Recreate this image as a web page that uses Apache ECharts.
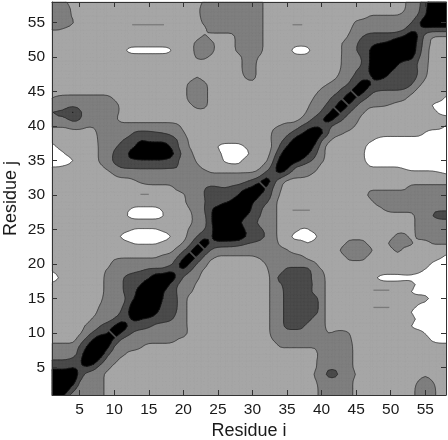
<!DOCTYPE html>
<html>
<head>
<meta charset="utf-8">
<title>Residue contact map</title>
<script src="https://cdn.jsdelivr.net/npm/echarts@6/dist/echarts.min.js"></script>
<style>
  html, body { margin: 0; padding: 0; background: #fff; }
  #chart { width: 448px; height: 440px; }
</style>
</head>
<body>
<div id="chart"></div>
<script>
var tickValues = [5, 10, 15, 20, 25, 30, 35, 40, 45, 50, 55];
var residueMin = 1;
var residueMax = 58;
var contourLevels = [2, 4, 6, 8];
var bandColors = ['#a6a6a6', '#7f7f7f', '#4b4b4b', '#000000'];

// thin traces where the surface just touches a level: i from, i to, j
var levelTraces = [
  [12.6, 17.2, 54.7],
  [35.8, 37.2, 54.7],
  [13.8, 15, 30.1],
  [35.8, 38.3, 27.8],
  [47.5, 49.8, 16.2],
  [47.5, 49.8, 13.7]
];

// narrow saddles that cut the black ridge along the diagonal: residue i, residue j
var ridgeSaddles = [
  [9.8, 9.8],
  [21.3, 21.4],
  [22.6, 22.6],
  [31.4, 31.5],
  [42.2, 42.3],
  [43.4, 43.5],
  [44.7, 44.7]
];

// one row per residue j, from 58 at the top down to 1; columns are residue i = 1..58
var zRows = [
  [5,5,4.2,3,3,3,3,3,3,3, 3,3,3,3,3,3,3,3,3,3, 3,3,4.4,5,5,5,5,5,5,5, 5,3,3,3,3,3,3,3,3,3, 3,3,3,3,3,3,3,3,3,3, 3,3.7,5,5.5,7,10,10,10],
  [5,5,5,3.5,3,3,3,3,3,3, 3,3,3,3,3,3,3,3,3,3, 3,3.4,5,5,5,5,5,5,5,5, 5,3,3,3,3,3,3,3,3,3, 3,3,3,3,3,3,3,3,3,3, 3,3.8,5,5.5,7.3,10,10,10],
  [5,5,5,3.6,3,3,3,3,3,3, 3,3,3,3,3,3,3,3,3,3, 3,3.2,5,5,5,5,5,5,5,5, 5,3,3,3,3,3,3,3,3,3, 3,3,3,3,3,3,4.1,4.1,4.1,4.1, 4.1,4.5,5,6,7.8,10,10,10],
  [5,5,5,4.4,3,3,3,3,3,3, 3,3,3,3,3,3,3,3,3,3, 3,3,4.5,5,5,5,5,5,5,5, 5,3,3,3,3,3,3,3,3,3, 3,3,3,3,4.5,5,5,5,5,5, 5,5,5.8,7.7,10,10,10,10],
  [4.1,4.1,3.6,3,3,3,3,3,3,3, 3,3,3,3,3,3,3,3,3,3, 3,3,3.2,5,5,5,5,5,5,5, 5,3,3,3,3,3,3,3,3,3, 3,3,3,3.6,5,5,5,5,5,5, 5,5.7,7.5,7.5,7.3,7,7,7],
  [3,3,3,3,3,3,3,3,3,3, 3,3,3,3,3,3,3,3,3,3, 3,3,4.6,3,3,3,3,5,5,5, 5,3,3,3,3,3,3,3,3,3, 3,3,3,4.3,5.2,6,7,7,7,7, 7.5,8.3,10,8,5,3.7,3.7,3.7],
  [3,3,3,3,3,3,3,3,3,3, 3,3,3,3,3,3,3,3,3,3, 3,5,5,5,3,3,3,5,5,5, 5,3,3,3,3,3,3,3,3,3, 3,3,4.2,5,5.7,7,7.3,7.7,8,8.5, 10,10,10,7,5.2,3.5,3,3],
  [3,3,3,3,3,3,3,3,3,3, 3,1.2,1,1,1,1,1,1.2,3,3, 3,5,5,5,3,3,3,5,5,5, 5,3,3,3,3,1,0.5,1,3,3, 3,3,4.1,5,6,7,8,10,10,10, 10,10,10,6.8,5,3,3,3],
  [3,3,3,3,3,3,3,3,3,3, 3,3,3,3,3,3,3,3,3,3, 3,4.5,4.6,3.5,3,3,3,3,5,5, 3.7,3,3,3,3,3,3,3,3,3, 3,3,4.2,5,5.3,6.2,8,10,10,10, 9.5,9,9,6,5,3,3,3],
  [3,3,3,3,3,3,3,3,3,3, 3,3,3,3,3,3,3,3,3,3, 3,3,3,3,3,3,3,3,5,5, 3,3,3,3,3,3,3,3,3,3, 3,3,4.2,5,5.3,6,8.2,10,10,10, 8,7,6.7,5.7,4.7,3,3,3],
  [3,3,3,3,3,3,3,3,3,3, 3,3,3,3,3,3,3,3,3,3, 3,3,3,3,3,3,3,3,5,5, 3,3,3,3,3,3,3,3,3,3, 3,3,4.5,5,6,6.8,8.3,10,10,8, 7,7,7,6,4.5,3,3,3],
  [3,3,3,3,3,3,3,3,3,3, 3,3,3,3,3,3,3,3,3,3, 3,4.5,3,3,3,3,3,3,4.1,5, 3,3,3,3,3,3,3,3,3,3, 3,3.7,5,5.6,6.5,7.2,7.5,8.3,8,7, 7,7,7,5.7,4.1,3,3,3],
  [3,3,3,3,3,3,3,3,3,3, 3,3,3,3,3,3,3,3,3,3, 5,5,5,3,3,3,3,3,3,3, 3,3,3,3,3,3,3,3,3,3.5, 4.2,5,5.5,6,7.5,10,8.3,7.5,7,7, 7,7,6.2,4.5,3,3,3,3],
  [3,3,3,3,3,3,3,3,3,3, 3,3,3,3,3,3,3,3,3,3, 5,5,5,3,3,3,3,3,3,3, 3,3,3,3,3,3,3,3,3.5,4.5, 5,5.5,6.5,7.5,10,8.5,6.3,5.7,5.7,5.7, 5.7,5.5,4.6,3,3,3,3,3],
  [4.1,4.8,5,5,5,5,5,5,5,3.7, 3,3,3,3,3,3,3,3,3,3, 5,5,5,3,3,3,3,3,3,3, 3,3,3,3,3,3,3,3,4.3,5, 5.7,6.7,7.5,10,7.5,6.3,5.5,5,5,5, 5,4.3,3,3,3,3,3,1.5],
  [5,5,5,5,5,5,5,5,5,5, 3.5,3,3,3,3,3,3,3,3,3, 3.5,5,5,3,3,3,3,3,3,3, 3,3,3,3,3,3,3,3.7,5,5.5, 6.3,7.5,10,7.5,6.1,5,4.4,4.3,4.2,3.8, 3,3,3,3,3,1.6,1,1],
  [6.2,6.5,6.8,9.5,6.5,5,5,5,5,5, 3.5,3,3,3,3,3,3,3,3,3, 3,3,3,3,3,3,3,3,3,3, 3,3,3,3,3,3,3,4.3,5,6, 7.5,10,7.5,6,5,4.3,3,3,3,3, 3,3,3,3,3,3,1.6,1],
  [5.5,5.5,5.7,6.5,6.2,5,5,5,5,4.5, 3,3,3,3,3,3,3,3,3,3, 3,3,3,3,3,3,3,3,3,3, 3,3,3,3,3,3,4,5.2,6.5,7.7, 10,7.5,6,5,4.7,3,3,3,3,3, 3,3,3,3,3,3,3,3],
  [4.2,4.2,4.2,5,5,4.2,4.2,5,5,5, 5,5,5,5,5,5,5,5,4.7,3.5, 3,3,3,3,3,3,3,3,3,3, 3,3,3.7,4.1,5,5,6,7,7.7,7.5, 6.2,5,5,5,3.7,3,3,3,3,3, 3,3,3,3,3,3,3,1.8],
  [3,3,3,3,3,3,3,5,5,5, 5,5.3,6.3,6.4,6.4,6.2,6,5.7,5,4.2, 3,3,3,3,3,3,3,3,3,3, 3,3,4.4,5,5.5,6.3,7.5,9,10,9, 6,5,4.2,3.4,3,3,3,3,3,3, 3,3,3,3,1.8,1,1,1],
  [3,3,3,3,3,3,3,4.7,5,5, 5.8,6.5,7,8,7,7,7,7,6.3,5, 3.5,3,3,3,3,3,3,3,3,3, 3,3,4.5,5.5,6.5,8.5,10,10,9.5,5.8, 4.5,3,3,3,3,3,2.5,1.6,1,1, 1,1,1,1,1,1,1,1],
  [1,2.6,3,3,3,3,3,4.5,5,5.7, 6.5,7,7.8,10,10,10,10,8,6.3,5, 3.7,3,3,3,1.6,1,1,1,2.2,3, 3,3,4.1,6.2,8,10,10,10,7.5,5, 3,3,3,3,3,2.6,1,1,1,1, 1,1,1,1,1,1,1,1],
  [1,1,2.2,3,3,3,3,4.5,5,6.3, 7,8,10,10,10,10,10,10,7,5.7, 4.6,3,3,3,3,1,1,1,1,2.6, 3,3,5,7.5,10,10,10,8.3,6.3,5, 3,3,3,3,3,2.2,1,1,1,1, 1,1,1,1,1,1,1,1],
  [1,1,1,1.6,3,3,3,4.5,5,6.5, 7,7.6,7.5,7.7,7.7,7.7,7.7,7,6.4,5, 5,3.6,3,3,3,1.6,1,1,3,3, 3,3.5,5.8,9,10,9.5,8,6.3,5.7,4.5, 3,3,3,3,3,2.4,1,1,1,1, 1,1,1,1,1,1,1,1],
  [2.1,2.1,2.5,3,3,3,3,3.5,4.5,5.5, 6.1,6.1,6.2,6.2,6.2,6.2,6.2,6.2,6.2,5.5, 5,4.5,3.5,3,3,3,3,3,3,3, 3.5,5,6.8,10,9,5.8,5,5,5,3, 3,3,3,3,3,3,2.1,2.1,2.1,2.1, 2.1,1.7,1,1,1,1,1,1],
  [3,3,3,3,3,3,3,3,3,4.1, 5,5,5,5,5,5,5,5,5,5, 5,5,5,4.3,4.3,4.3,4.3,4.3,4.3,4.3, 5,6.8,7.5,8,6,5,5,4.5,3.5,3, 3,3,3,3,3,3,3,3,3,3, 3,3,3,3,3,3,2.5,2.1],
  [3,3,3,3,3,3,3,3,3,3, 3,3,3.8,4.5,5,5,5,5,5,5, 5,5,5,5,5,5,5,5,5.7,6.5, 7.5,10,6.8,4.5,3.5,3,3,3,3,3, 3,3,3,3,3,3,3,3,3,3, 3,3,3,3,3,3,3,3],
  [3,3,3,3,3,3,3,3,3,3, 3,3,3,3,3,3,3,3,4.5,5, 5,5,6,6.6,6.3,6,6.5,7,7.7,8.5, 10,7.5,5.8,4.2,3,3,3,3,3,3, 3,3,3,3,3,3,3.5,3.5,3.5,3.5, 3.5,3.5,5,5,5,5,5,5],
  [3,3,3,3,3,3,3,3,3,3, 3,3,3,3,3,3,3,3,3,3.5, 5,5,6,7,7,7,7,7.8,10,10, 8,7,5.7,3.7,3,3,3,3,3,3, 3,3,3,3,3,3,5,5,5,5, 5,5,5,5,5,5,5,5],
  [3,3,3,3,3,3,3,3,3,3, 3,3,3,3,3,3,3,3,3,3.5, 5,5,5.7,7,7,7.5,8.3,10,10,8, 7,6.3,5,3,3,3,3,3,3,3, 3,3,3,3,3,3,3,5,5,5, 5,5,5,5,5,5,5,5],
  [3,3,3,3,3,3,3,3,3,3, 3,2.2,1.5,1.5,1.5,1.5,2.2,3,3,3, 4.1,5,5.8,8,8.6,10,10,10,10,7.4, 6.5,5.2,5,3,3,3,3,3,3,3, 3,3,3,3,3,3,3,3,4.2,5, 5,5,5,5,5,5.5,5.5,5.5],
  [3,3,3,3,3,3,3,3,3,3, 3,1.6,1,1,1,1,1.6,3,3,3, 3.5,5,5.3,7.7,10,10,10,10,8,7, 6.2,5,5,3,3,3,3,3,3,3, 3,3,3,3,3,3,3,3,3,3, 3,3,3,5,5,6.2,7,7],
  [3,3,3,3,3,3,3,3,3,3, 3,3,3,3,3,3,3,3,3,3, 3.5,5,5,7.7,10,10,10,8,7,6.5, 5.5,5,5,3,3,3,3,3,3,3, 3,3,3,3,3,3,3,3,3,3, 3,3,3,5,5,5,5,5],
  [3,3,3,3,3,3,3,3,3,3, 3,2.4,1.8,1.8,1.8,1.8,2.4,3,3,3, 4.5,5,5.8,7,10,10,10,10,7.6,7, 6.5,5.5,5,3,3,3,1.7,1.7,3,3, 3,3,3,3,3,3,3,3,3,3, 3,3,3,5,5,5,5,5],
  [3,3,3,3,3,3,3,3,3,3, 1.4,1,1,1,1,1,1,1.4,3,3, 5,5.8,7.3,7.5,10,10,10,10,8.2,7.5, 7,5.8,5,3,3,1,1,1,1,3, 3,3,3,3,3,3,3,3,3,3, 5,5,3,4.8,5,5,5,5],
  [3,3,3,3,3,3,3,3,3,3, 3,2.4,1.8,1.8,1.8,1.8,2.4,3,3,4.1, 5.5,7.5,10,7.5,7.2,7,7,6.5,6,5.7, 5.3,5,5,3.5,3,3,3,1.8,3,3, 3,3,3,5,5,5,3,3,3,5, 5,5,4.6,3,3,4.2,4.2,4.2],
  [3,3,3,3,3,3,3,3,3,3, 3,3,3,3,3,3,3,3,4.5,5.5, 7.5,10,7.5,5.7,5,5,5,5,5,5, 5,5,5,4.6,4.2,3,3,3,3,3, 3,3,5,5,5,5,5,3,3,3, 5,3,3,3,3,3,3,3],
  [3,3,3,3,3,3,3,3,3,3.5, 3.8,3.8,3.8,3.8,3.8,3.8,4.5,5,5.5,7.7, 10,7.5,5.5,4.5,3.7,3.7,3.7,3.7,3.7,3.7, 4.2,5,5,5,5,5,4.5,3.5,3,3, 3,3,3,5,5,5,3,3,3,3, 3,3,3,3,3,3,2.5,1.5],
  [3,3,3,3,3,3,3,3,3,5, 5,5,5,5,5,5,5,5,7,10, 7.7,5.5,5,3,3,3,3,3,3,3, 3,4.1,5,5,5,5,5,5,4.5,3, 3,3,3,3,3,3,3,3,3,3, 3,3,3,3,3,1.6,1,1],
  [2.2,3,3,3,3,3,3,3,4.5,5, 5,5,5.7,6,6.5,6.5,6.5,8,7.5,7.5, 5.8,5,3.5,3,3,3,3,3,3,3, 3,3.5,5,5,7,7,7,7,5,4.3, 3,3,3,3,3,3,3,3,3,3, 3,3,3,2.6,1.6,1,1,1],
  [0.5,1.8,3,3,3,3,3,3,5,5, 5.5,7,7,7,7.5,10,10,10,8,5.5, 5,4.5,3,3,3,3,3,3,3,3, 3,3,5,7,7,7,7,7,5,5, 3,3,3,3,3,3,3,1.6,1,1, 1,1.2,1.2,1,1,1,1,1],
  [3,3,3,3,3,3,3,3,5,5, 5.5,7,7,8,10,10,10,7.7,6,5, 5,3.5,3,3,3,3,3,3,3,3, 3,3,5,5.5,7,7,7,7,5.5,5, 3,3,3,3,3,3,3,3,3,3, 3,3,3,1.6,1,1,1,1],
  [3,3,3,3,3,3,3,3,5,5, 5.5,7,7.5,10,10,10,8,7,6,5, 4.5,3,3,3,3,3,3,3,3,3, 3,3,5,5,7,7,7,7,5,5, 3,3,3,3,3,3,3,3,3,3, 3,3,1.6,1,1,1,1,1],
  [3,3,3,3,3,3,3,3.5,5,5, 5,6.5,8,10,10,10,8,7,6.2,5, 3,3,3,3,3,3,3,3,3,3, 3,3,5,5,7,7,7,7,7,5, 3,3,3,3,3,3,3,3,3,3, 3,3,3,3,3,1.6,1,1],
  [3,3,3,3,3,3,3,4.1,5,5, 5.5,7,10,10,10,10,7,7,6.2,5, 3,3,3,3,3,3,3,3,3,3, 3,3,5,5,7,7,7,7,7,5, 3,3,3,3,3,3,3,3,3,3, 3,3,3,1.8,1,1,1,1],
  [3,3,3,3,3,3,3,5,5,5, 6,8,10,10,10,8.3,7,7,6,5, 3,3,3,3,3,3,3,3,3,3, 3,3,5,5,7,7,7,7,7,5, 3,3,3,3,3,3,3,3,3,3, 3,3,1.6,1,1,1,1,1],
  [3,3,3,3,3,3,4.5,5,5,6, 7,7.4,8.5,7.8,7.5,7,7,6.5,5.5,5, 3,3,3,3,3,3,3,3,3,3, 3,3,5,5,7,7,7,7,5,5, 3,3,3,3,3,3,3,3,3,3, 3,3,3,1.6,1,1,1,1],
  [3,3,3,3,3,4.5,5,6,7,8, 10,8,7,7,6.3,5.5,5,5,5,5, 3,3,3,3,3,3,3,3,3,3, 3,3,5,5,7,7,7,5,5,5, 3,3,3,3,3,3,3,3,3,3, 3,3,1.6,1,1,1,1,1],
  [3,3,3,3,3.5,5,6.2,7.2,7.5,10, 8,6.5,5.5,5,5,5,5,5,5,5.5, 3,3,3,3,3,3,3,3,3,3, 3,3,5,5,5,5,5,5,5,5, 3.7,4.5,4.7,4.1,3,3,3,3,3,3, 3,3,3,3,1.8,1,1,1],
  [3,3,3,3,5,6.5,8.3,10,10,7.5, 5.5,5,5,5,5,5,5,5,4.1,3, 3,3,3,3,3,3,3,3,3,3, 3,3,4.1,5,5,5,5,5,5,5, 5,5,5,4.5,3,3,3,3,3,3, 3,3,3,3,3,1.6,1,1],
  [5,5,5,5,6.2,8,10,10,9,5.5, 5,5,5,4.1,3,3,3,3,3,3, 3,3,3,3,3,3,3,3,3,3, 3,3,3,4.2,4.2,4.2,4.2,4.2,4.2,5, 5,5,5,5,3,3,3,3,3,3, 3,3,3,3,3,3,3,3],
  [5,5,5,5,6.5,9.5,10,10,6.2,5, 5,3.5,3,3,3,3,3,3,3,3, 3,3,3,3,3,3,3,3,3,3, 3,3,3,3,3,3,3,3,3,5, 5,5,5,5,3,3,3,3,3,3, 3,3,3,3,3,3,3,3],
  [6.1,6.1,6.1,6.5,7.5,10,10,7,5,5, 3,3,3,3,3,3,3,3,3,3, 3,3,3,3,3,3,3,3,3,3, 3,3,3,3,3,3,3,3,3.5,5, 5,5,5,5,3,3,3,3,3,3, 3,3,3,3,3,3,3,3],
  [7.2,7.2,7.2,8,7.5,8,6.6,5,5,3, 3,3,3,3,3,3,3,3,3,3, 3,3,3,3,3,3,3,3,3,3, 3,3,3,3,3,3,3,3,3.5,5, 5.5,5.5,5,5,3,3,3,3,3,3, 3,3,3,3,3,3,3,3],
  [10,10,10,10,7.5,5,5,5,3,3, 3,3,3,3,3,3,3,3,3,3, 3,3,3,3,3,3,3,3,3,3, 3,3,3,3,3,3,3,3,4.3,5, 7,7,5,5,4.1,3,3,3,3,3, 3,3,3,3,3.8,3,3,3],
  [10,10,10,10,5.5,5,5,5,3,3, 3,3,3,3,3,3,3,3,3,3, 3,3,3,3,3,3,3,3,3,3, 3,3,3,3,3,3,3,3,3.6,5, 5,5,5,5,3,3,3,3,3,3, 3,3,3,4.1,5,4.1,3,3],
  [10,10,10,6.8,5,5,5,5,3,3, 3,3,3,3,3,3,3,3,3,3, 3,3,3,3,3,3,3,3,3,3, 3,3,3,3,3,3,3,3,3,5, 5,5,5,5,3,3,3,3,3,3, 3,3,3,5,5,5,3,3],
  [10,10,7.5,5,5,5,5,5,3,3, 3,3,3,3,3,3,3,3,3,3, 3,3,3,3,3,3,3,3,3,3, 3,3,3,3,3,3,3,3,3,5, 5,5,5,5,3,3,3,3,3,3, 3,3,3,5,5,5,3,3]
];

zRows.forEach(function (row, r) {
  if (row.length !== 58) throw new Error('row j=' + (58 - r) + ' has ' + row.length);
});

// contouring works on a 2x refined surface (cubic b-spline) so the bands come out rounded
function refine(values) {
  var out = [];
  for (var n = 0; n < values.length; n++) {
    var prev = values[Math.max(n - 1, 0)], next = values[Math.min(n + 1, values.length - 1)];
    out.push(n === 0 || n === values.length - 1 ? values[n] : (prev + 6 * values[n] + next) / 8);
    if (n < values.length - 1) out.push((values[n] + next) / 2);
  }
  return out;
}

function transpose(m) {
  return m[0].map(function (_, c) {
    return m.map(function (row) { return row[c]; });
  });
}

var fine = transpose(transpose(zRows.map(refine)).map(refine));
var step = 0.5;
var fineSize = fine.length;

function zAt(c, r) {
  return fine[fineSize - 1 - r][c];
}

function node(c, r) {
  return { x: residueMin + c * step, y: residueMin + r * step, z: zAt(c, r) };
}

function crossing(p, q, level) {
  var t = (level - p.z) / (q.z - p.z);
  return { x: p.x + (q.x - p.x) * t, y: p.y + (q.y - p.y) * t };
}

function toPath(points, api, closed) {
  var d = '';
  points.forEach(function (p, n) {
    var c = api.coord([p.x, p.y]);
    d += (n ? 'L' : 'M') + c[0].toFixed(2) + ' ' + c[1].toFixed(2);
  });
  return d + (closed ? 'Z' : '');
}

// visit each cell: corners, and the 4 triangles around the cell mean when it is cut by the level
function forEachCell(level, whole, cut) {
  for (var r = 0; r < fineSize - 1; r++) {
    for (var c = 0; c < fineSize - 1; c++) {
      var a = node(c, r), b = node(c + 1, r), e = node(c + 1, r + 1), d = node(c, r + 1);
      var low = Math.min(a.z, b.z, e.z, d.z), high = Math.max(a.z, b.z, e.z, d.z);
      if (low >= level) { whole([a, b, e, d]); continue; }
      if (high < level) continue;
      var m = { x: a.x + step / 2, y: a.y + step / 2, z: (a.z + b.z + e.z + d.z) / 4 };
      [[a, b, m], [b, e, m], [e, d, m], [d, a, m]].forEach(cut);
    }
  }
}

function bandRenderer(level, color) {
  return function (params, api) {
    var d = '';
    forEachCell(level, function (square) {
      d += toPath(square, api, true);
    }, function (tri) {
      var poly = [];
      for (var n = 0; n < 3; n++) {
        var p = tri[n], q = tri[(n + 1) % 3];
        if (p.z >= level) poly.push(p);
        if ((p.z >= level) !== (q.z >= level)) poly.push(crossing(p, q, level));
      }
      if (poly.length > 2) d += toPath(poly, api, true);
    });
    return {
      type: 'path',
      shape: { pathData: d },
      style: { fill: color, stroke: color, lineWidth: 0.5 }
    };
  };
}

function contourRenderer(params, api) {
  var d = '';
  contourLevels.forEach(function (level) {
    forEachCell(level, function () {}, function (tri) {
      var seg = [];
      for (var n = 0; n < 3; n++) {
        var p = tri[n], q = tri[(n + 1) % 3];
        if ((p.z >= level) !== (q.z >= level)) seg.push(crossing(p, q, level));
      }
      if (seg.length === 2) d += toPath(seg, api, false);
    });
  });
  return {
    type: 'path',
    shape: { pathData: d },
    style: { fill: null, stroke: '#1f1f1f', lineWidth: 0.6 }
  };
}

function traceRenderer(params, api) {
  var t = levelTraces[params.dataIndex];
  var from = api.coord([t[0], t[2]]);
  var to = api.coord([t[1], t[2]]);
  return {
    type: 'line',
    shape: { x1: from[0], y1: from[1], x2: to[0], y2: to[1] },
    style: { stroke: '#7a7a7a', lineWidth: 1.3 }
  };
}

function saddleRenderer(params, api) {
  var s = ridgeSaddles[params.dataIndex];
  var from = api.coord([s[0] - 0.65, s[1] + 0.65]);
  var to = api.coord([s[0] + 0.65, s[1] - 0.65]);
  return {
    type: 'line',
    shape: { x1: from[0], y1: from[1], x2: to[0], y2: to[1] },
    style: { stroke: bandColors[2], lineWidth: 1.8 }
  };
}

var series = contourLevels.map(function (level, n) {
  return {
    type: 'custom',
    coordinateSystem: 'cartesian2d',
    data: [[residueMin, residueMin]],
    silent: true,
    z: 2 + n,
    renderItem: bandRenderer(level, bandColors[n])
  };
});
series.push({
  type: 'custom',
  coordinateSystem: 'cartesian2d',
  data: [[residueMin, residueMin]],
  silent: true,
  z: 7,
  renderItem: contourRenderer
});
series.push({
  type: 'custom',
  coordinateSystem: 'cartesian2d',
  encode: { x: 0, y: 2 },
  data: levelTraces,
  silent: true,
  z: 8,
  renderItem: traceRenderer
});
series.push({
  type: 'custom',
  coordinateSystem: 'cartesian2d',
  data: ridgeSaddles,
  silent: true,
  z: 8,
  renderItem: saddleRenderer
});

function residueAxis(position, name, nameGap) {
  var shown = !!name;
  return {
    type: 'value',
    position: position,
    min: residueMin,
    max: residueMax,
    z: 10,
    name: name,
    nameLocation: 'middle',
    nameGap: nameGap,
    nameMoveOverlap: false,
    nameTextStyle: { fontFamily: 'Liberation Sans', fontSize: 18, color: '#1a1a1a' },
    axisLine: { show: true, onZero: false, lineStyle: { color: '#333333', width: 1 } },
    axisTick: { show: true, inside: true, length: 5, customValues: tickValues, lineStyle: { color: '#333333', width: 1 } },
    axisLabel: {
      show: shown,
      customValues: tickValues,
      margin: 7,
      fontFamily: 'Liberation Sans',
      fontSize: 15.5,
      color: '#1a1a1a'
    },
    splitLine: { show: false }
  };
}

var chart = echarts.init(document.getElementById('chart'), null, { renderer: 'canvas' });
chart.setOption({
  animation: false,
  backgroundColor: '#ffffff',
  grid: { left: 52, right: 2, top: 2, bottom: 45, outerBoundsMode: 'none', show: true, backgroundColor: '#ffffff', borderWidth: 0 },
  xAxis: [residueAxis('bottom', 'Residue i', 27), residueAxis('top', '', 0)],
  yAxis: [residueAxis('left', 'Residue j', 32), residueAxis('right', '', 0)],
  series: series
});
</script>
</body>
</html>
